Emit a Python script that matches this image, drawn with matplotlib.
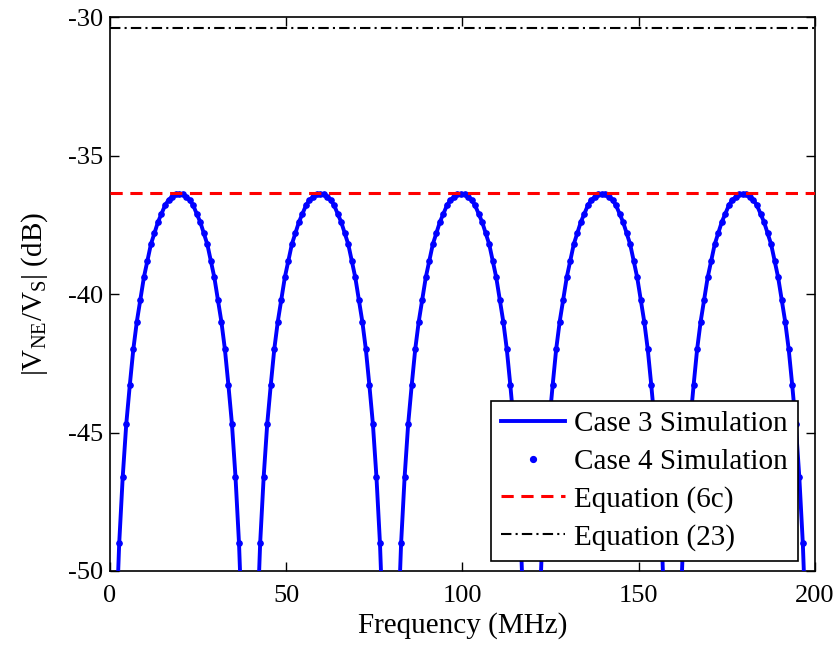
import numpy as np
import matplotlib
matplotlib.use("Agg")
import matplotlib.pyplot as plt

plt.rcParams['font.family'] = ['Liberation Serif', 'DejaVu Serif']
plt.rcParams['mathtext.fontset'] = 'custom'
plt.rcParams['mathtext.rm'] = 'Liberation Serif'
plt.rcParams['axes.unicode_minus'] = False

# Frequency grid (MHz) of the simulations
freq = np.arange(0.6, 200.0, 1.0)

# |V_NE/V_S| (dB) (values below -50 are clipped)
case3_db = [
    -58.5, -52.5, -49.0, -46.6, -44.7, -43.3, -42.0, -41.0, -40.2, -39.4,
    -38.8, -38.2, -37.8, -37.4, -37.1, -36.8, -36.6, -36.5, -36.4, -36.4,
    -36.4, -36.5, -36.6, -36.8, -37.1, -37.4, -37.8, -38.2, -38.8, -39.4,
    -40.2, -41.0, -42.0, -43.3, -44.7, -46.6, -49.0, -52.5, -58.5, -80.0,
    -58.5, -52.5, -49.0, -46.6, -44.7, -43.3, -42.0, -41.0, -40.2, -39.4,
    -38.8, -38.2, -37.8, -37.4, -37.1, -36.8, -36.6, -36.5, -36.4, -36.4,
    -36.4, -36.5, -36.6, -36.8, -37.1, -37.4, -37.8, -38.2, -38.8, -39.4,
    -40.2, -41.0, -42.0, -43.3, -44.7, -46.6, -49.0, -52.5, -58.5, -80.0,
    -58.5, -52.5, -49.0, -46.6, -44.7, -43.3, -42.0, -41.0, -40.2, -39.4,
    -38.8, -38.2, -37.8, -37.4, -37.1, -36.8, -36.6, -36.5, -36.4, -36.4,
    -36.4, -36.5, -36.6, -36.8, -37.1, -37.4, -37.8, -38.2, -38.8, -39.4,
    -40.2, -41.0, -42.0, -43.3, -44.7, -46.6, -49.0, -52.5, -58.5, -80.0,
    -58.5, -52.5, -49.0, -46.6, -44.7, -43.3, -42.0, -41.0, -40.2, -39.4,
    -38.8, -38.2, -37.8, -37.4, -37.1, -36.8, -36.6, -36.5, -36.4, -36.4,
    -36.4, -36.5, -36.6, -36.8, -37.1, -37.4, -37.8, -38.2, -38.8, -39.4,
    -40.2, -41.0, -42.0, -43.3, -44.7, -46.6, -49.0, -52.5, -58.5, -80.0,
    -58.5, -52.5, -49.0, -46.6, -44.7, -43.3, -42.0, -41.0, -40.2, -39.4,
    -38.8, -38.2, -37.8, -37.4, -37.1, -36.8, -36.6, -36.5, -36.4, -36.4,
    -36.4, -36.5, -36.6, -36.8, -37.1, -37.4, -37.8, -38.2, -38.8, -39.4,
    -40.2, -41.0, -42.0, -43.3, -44.7, -46.6, -49.0, -52.5, -58.5, -80.0,
]
case4_db = list(case3_db)

eq6c_db = -36.35
eq23_db = -30.4

x_ticks = [0, 50, 100, 150, 200]
y_ticks = [-50, -45, -40, -35, -30]

fig = plt.figure(figsize=(8.4, 6.47), dpi=100)
ax = fig.add_axes([0.131, 0.1175, 0.839, 0.856])

ax.plot(freq, case3_db, color='#0000ff', lw=2.8, label='Case 3 Simulation', zorder=3)
ax.plot(freq, case4_db, ls='none', marker='o', ms=3.8, color='#0000ff',
        label='Case 4 Simulation', zorder=4)
ax.axhline(eq6c_db, color='#ff0000', ls=(0, (4, 2.5)), lw=2.2, label='Equation (6c)', zorder=5)
ax.axhline(eq23_db, color='black', ls=(0, (5, 2, 1, 2)), lw=1.5, label='Equation (23)', zorder=5)

ax.set_xlim(0, 200)
ax.set_ylim(-50, -30)
ax.set_xticks(x_ticks)
ax.set_yticks(y_ticks)
ax.tick_params(direction='in', top=True, right=True, length=6.5, width=1, labelsize=19)
ax.tick_params(axis='x', pad=10)
ax.tick_params(axis='y', pad=5)
for s in ax.spines.values():
    s.set_linewidth(1.2)

ax.set_xlabel('Frequency (MHz)', fontsize=21, labelpad=4)
ax.set_ylabel(r'$|\mathrm{V}_{\mathrm{NE}}/\mathrm{V}_{\mathrm{S}}|$ (dB)', fontsize=21, labelpad=13)

leg = ax.legend(loc='lower right', bbox_to_anchor=(0.976, 0.018), fontsize=21,
                frameon=True, fancybox=False, framealpha=1, edgecolor='black',
                handlelength=2.2, borderpad=0.35, labelspacing=0.38, handletextpad=0.3,
                borderaxespad=0.0, markerscale=1.1)
leg.get_frame().set_linewidth(1.2)

fig.savefig('out.png', dpi=100)
